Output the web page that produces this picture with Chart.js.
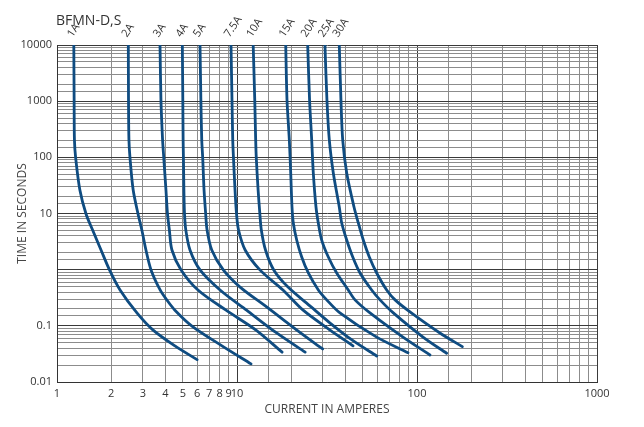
<!DOCTYPE html>
<html>
<head>
<meta charset="utf-8">
<script src="https://cdn.jsdelivr.net/npm/chart.js@4.4.1/dist/chart.umd.min.js"></script>
<style>
  html, body { margin: 0; padding: 0; background: #fff; }
  #wrap { width: 644px; height: 427px; position: relative; }
</style>
</head>
<body>
<div id="wrap"><canvas id="fuseChart"></canvas></div>
<script>
// fuse ratings (curve labels)
var ratings = ['1A', '2A', '3A', '4A', '5A', '7.5A', '10A', '15A', '20A', '25A', '30A'];

// current (A) / time (s)
var amps1 = [1.24, 1.245, 1.25, 1.27, 1.34, 1.45, 1.577, 1.756, 1.957, 2.24, 2.78, 3.42, 4.52, 6.0];
var secs1 = [10000, 1050, 204, 97, 26.2, 9.8, 5.08, 2.24, 0.99, 0.435, 0.17, 0.084, 0.044, 0.025];
var amps2 = [2.49, 2.496, 2.51, 2.545, 2.65, 2.82, 2.96, 3.12, 3.33, 3.74, 4.07, 4.52, 5.62, 8.25, 11.96];
var secs2 = [10000, 1050, 204, 97, 26.2, 9.8, 5.08, 2.24, 0.99, 0.435, 0.29, 0.19, 0.099, 0.044, 0.021];
var amps3 = [3.735, 3.78, 3.86, 3.92, 4.03, 4.11, 4.21, 4.35, 4.89, 6.07, 8.69, 12.75, 17.8];
var secs3 = [10000, 1050, 204, 97, 26.2, 9.8, 5.08, 2.24, 0.99, 0.435, 0.19, 0.084, 0.034];
var amps4 = [4.97, 5.0, 5.02, 5.04, 5.07, 5.11, 5.195, 5.48, 6.23, 8.05, 11.3, 16.6, 23.9];
var secs4 = [10000, 1050, 204, 97, 26.2, 9.8, 5.08, 2.24, 0.99, 0.435, 0.19, 0.0746, 0.034];
var amps5 = [6.23, 6.3, 6.37, 6.45, 6.56, 6.7, 6.82, 7.24, 8.39, 10.4, 14.6, 21.5, 29.9];
var secs5 = [10000, 1050, 204, 97, 26.2, 9.8, 5.08, 2.24, 0.99, 0.49, 0.217, 0.084, 0.0387];
var amps75 = [9.26, 9.38, 9.47, 9.56, 9.75, 9.94, 10.2, 11.1, 13.4, 18.0, 23.3, 32.9, 44.1];
var secs75 = [10000, 1050, 204, 97, 26.2, 9.8, 5.08, 2.24, 0.99, 0.435, 0.19, 0.084, 0.044];
var amps10 = [12.3, 12.55, 12.7, 12.8, 13.1, 13.4, 13.65, 14.4, 16.0, 19.2, 25.8, 32.9, 43.5, 59.7];
var secs10 = [10000, 1050, 204, 97, 26.2, 9.8, 5.08, 2.24, 0.99, 0.49, 0.217, 0.112, 0.056, 0.029];
var amps15 = [18.65, 18.96, 19.53, 19.88, 20.21, 20.55, 21.46, 22.88, 24.9, 28.3, 31.5, 37.3, 59.7, 89.1];
var secs15 = [10000, 1050, 204, 52.6, 13.06, 6.78, 3.37, 1.68, 0.873, 0.435, 0.29, 0.17, 0.063, 0.0333];
var amps20 = [24.7, 25.3, 26.0, 26.54, 27.47, 28.29, 29.55, 32.16, 35.8, 41.5, 45.25, 54.8, 83.6, 118];
var secs20 = [10000, 1050, 204, 52.6, 13.06, 6.78, 3.37, 1.68, 0.873, 0.435, 0.29, 0.17, 0.063, 0.0303];
var amps25 = [30.8, 31.6, 32.57, 34.28, 37.0, 38.17, 40.69, 43.95, 48.25, 56.0, 62.3, 73.85, 108, 146];
var secs25 = [10000, 1050, 204, 52.6, 13.06, 6.78, 3.37, 1.68, 0.873, 0.435, 0.29, 0.17, 0.063, 0.0325];
var amps30 = [37.0, 37.8, 38.66, 40.69, 44.67, 47.2, 50.3, 54.33, 59.7, 67.86, 75.5, 93.0, 134, 178.5];
var secs30 = [10000, 1050, 204, 52.6, 13.06, 6.78, 3.37, 1.68, 0.873, 0.435, 0.29, 0.17, 0.0746, 0.0426];

// tick labels that are printed
var xTickLabels = [1, 2, 3, 4, 5, 6, 7, 8, 9, 10, 100, 1000];
var yTickLabels = [0.01, 0.1, 10, 100, 1000, 10000];

var curveAmps = [amps1, amps2, amps3, amps4, amps5, amps75, amps10, amps15, amps20, amps25, amps30];
var curveSecs = [secs1, secs2, secs3, secs4, secs5, secs75, secs10, secs15, secs20, secs25, secs30];

function toPoints(xs, ys) {
    return xs.map(function (v, i) { return { x: v, y: ys[i] }; });
}

function findLabel(list, value) {
    for (var i = 0; i < list.length; i++) {
        if (Math.abs(Math.log10(value) - Math.log10(list[i])) < 1e-6) return String(list[i]);
    }
    return '';
}

function isDecade(value) {
    var l = Math.log10(value);
    return Math.abs(l - Math.round(l)) < 1e-6;
}

var datasets = ratings.map(function (r, i) {
    return {
        label: r,
        data: toPoints(curveAmps[i], curveSecs[i]),
        showLine: true,
        borderColor: '#0f4c81',
        borderWidth: 2.8,
        borderCapStyle: 'round',
        borderJoinStyle: 'round',
        pointRadius: 0,
        tension: 0.3,
        fill: false
    };
});

var textPlugin = {
    id: 'textOverlay',
    afterDraw: function (chart) {
        var ctx = chart.ctx;
        var area = chart.chartArea;
        var xs = chart.scales.x;
        ctx.save();
        ctx.fillStyle = '#333';
        // curve labels
        ctx.font = '11px "Open Sans"';
        ctx.textBaseline = 'middle';
        ctx.textAlign = 'left';
        ratings.forEach(function (r, i) {
            var px = xs.getPixelForValue(curveAmps[i][0]);
            ctx.save();
            ctx.translate(px - 4, area.top - 9);
            ctx.rotate(-56 * Math.PI / 180);
            ctx.fillText(r, 0, 0);
            ctx.restore();
        });
        // title
        ctx.font = '14px "Open Sans"';
        ctx.textBaseline = 'alphabetic';
        ctx.fillText('BFMN-D,S', area.left - 1, 25);
        // axis titles
        ctx.font = '12px "Open Sans"';
        ctx.fillStyle = '#444';
        ctx.textAlign = 'center';
        ctx.textBaseline = 'middle';
        ctx.fillText('CURRENT IN AMPERES', (area.left + area.right) / 2, 410);
        ctx.save();
        ctx.translate(23, (area.top + area.bottom) / 2);
        ctx.rotate(-Math.PI / 2);
        ctx.fillText('TIME IN SECONDS', 0, 0);
        ctx.restore();
        ctx.restore();
    }
};

Chart.defaults.font.family = '"Open Sans", sans-serif';
Chart.defaults.font.size = 11;
Chart.defaults.color = '#333';

var ctx = document.getElementById('fuseChart').getContext('2d');
new Chart(ctx, {
    type: 'scatter',
    data: { datasets: datasets },
    options: {
        responsive: true,
        maintainAspectRatio: false,
        animation: false,
        layout: { padding: { top: 45, right: 47, left: 0, bottom: 0 } },
        plugins: {
            legend: { display: false },
            tooltip: { enabled: false }
        },
        scales: {
            x: {
                type: 'logarithmic',
                min: 1,
                max: 1000,
                afterFit: function (scale) { scale.height = 45; },
                border: { color: '#333', width: 1 },
                grid: {
                    drawTicks: false,
                    color: function (c) { return isDecade(c.tick.value) ? '#3a3a3a' : '#8c8c8c'; }
                },
                ticks: {
                    autoSkip: false,
                    maxRotation: 0,
                    minRotation: 0,
                    padding: 5,
                    color: '#333',
                    callback: function (value) { return findLabel(xTickLabels, value); }
                }
            },
            y: {
                type: 'logarithmic',
                min: 0.01,
                max: 10000,
                afterFit: function (scale) { scale.width = 57; },
                border: { color: '#333', width: 1 },
                grid: {
                    drawTicks: false,
                    color: function (c) { return isDecade(c.tick.value) ? '#3a3a3a' : '#8c8c8c'; }
                },
                ticks: {
                    autoSkip: false,
                    padding: 5,
                    color: '#333',
                    callback: function (value) { return findLabel(yTickLabels, value); }
                }
            }
        }
    },
    plugins: [textPlugin]
});
</script>
</body>
</html>
